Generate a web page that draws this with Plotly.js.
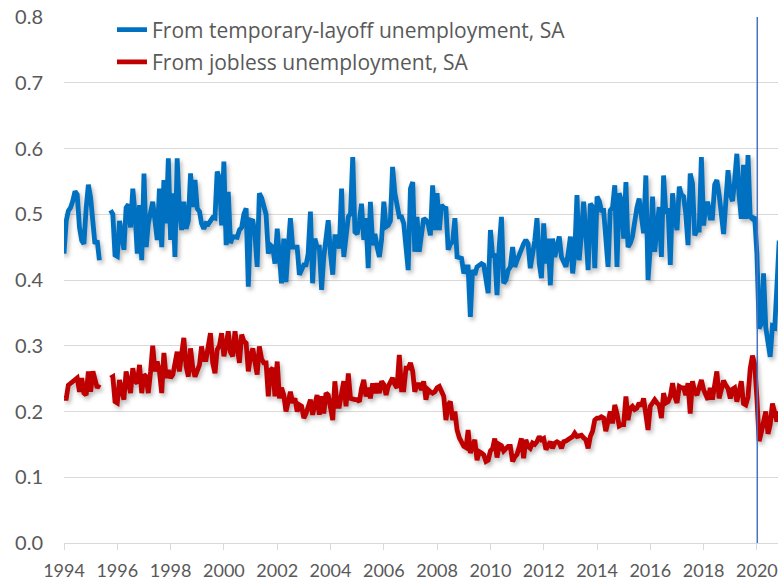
<!DOCTYPE html>
<html><head><meta charset="utf-8">
<script src="https://cdn.plot.ly/plotly-3.0.1.min.js"></script>
<style>
html,body{margin:0;padding:0;background:#fff}
#chart{width:778px;height:582px}
.scatterlayer .trace path.js-line{filter:drop-shadow(2px 3px 2px rgba(0,0,0,0.28));}
</style></head><body><div id="chart"></div>
<script>
// Monthly series, first value = Jan 1994; null = months with no data (Jun-Sep 1995)
const firstYear = 1994;
const seriesNames = ["From temporary-layoff unemployment, SA", "From jobless unemployment, SA"];
const tempLayoff = [
 0.44,0.49,0.505,0.51,0.52,0.535,0.53,0.48,0.46,0.455,0.51,0.545,
 0.525,0.49,0.455,0.46,0.43,null,null,null,null,0.506,0.50,0.438,
 0.436,0.49,0.47,0.446,0.51,0.515,0.48,0.539,0.50,0.44,0.514,0.43,
 0.562,0.45,0.486,0.505,0.519,0.49,0.461,0.539,0.45,0.552,0.486,0.585,
 0.461,0.532,0.435,0.585,0.506,0.476,0.519,0.478,0.49,0.562,0.511,0.552,
 0.509,0.504,0.486,0.478,0.486,0.485,0.49,0.495,0.494,0.565,0.555,0.483,
 0.58,0.453,0.534,0.456,0.466,0.466,0.465,0.476,0.48,0.50,0.509,0.39,
 0.491,0.49,0.47,0.42,0.532,0.525,0.511,0.50,0.44,0.453,0.45,0.425,
 0.478,0.423,0.395,0.463,0.397,0.45,0.494,0.45,0.45,0.45,0.408,0.415,
 0.423,0.423,0.44,0.504,0.395,0.463,0.45,0.45,0.385,0.435,0.465,0.491,
 0.44,0.408,0.466,0.466,0.448,0.539,0.435,0.47,0.496,0.501,0.587,0.473,
 0.47,0.49,0.516,0.461,0.494,0.418,0.519,0.453,0.47,0.45,0.435,0.461,
 0.519,0.481,0.483,0.49,0.572,0.532,0.51,0.496,0.496,0.486,0.45,0.415,
 0.539,0.549,0.443,0.496,0.443,0.47,0.494,0.491,0.485,0.468,0.544,0.476,
 0.532,0.476,0.514,0.51,0.509,0.446,0.455,0.458,0.494,0.435,0.434,0.433,
 0.41,0.42,0.42,0.344,0.415,0.408,0.42,0.423,0.425,0.423,0.40,0.38,
 0.476,0.435,0.44,0.377,0.45,0.496,0.395,0.40,0.415,0.42,0.45,0.42,
 0.43,0.44,0.448,0.455,0.461,0.455,0.418,0.435,0.46,0.494,0.425,0.403,
 0.486,0.425,0.463,0.392,0.463,0.435,0.45,0.466,0.435,0.425,0.42,0.44,
 0.466,0.41,0.44,0.529,0.43,0.47,0.519,0.47,0.415,0.516,0.511,0.418,
 0.527,0.52,0.506,0.506,0.45,0.42,0.506,0.51,0.544,0.42,0.532,0.52,
 0.463,0.549,0.45,0.456,0.466,0.49,0.51,0.524,0.501,0.471,0.559,0.40,
 0.45,0.527,0.443,0.49,0.511,0.435,0.559,0.501,0.509,0.423,0.532,0.494,
 0.476,0.542,0.53,0.527,0.501,0.453,0.562,0.547,0.468,0.476,0.476,0.587,
 0.483,0.516,0.516,0.494,0.494,0.545,0.552,0.53,0.50,0.47,0.519,0.567,
 0.53,0.52,0.55,0.592,0.53,0.493,0.575,0.493,0.59,0.496,0.493,0.496,
 0.44,0.326,0.334,0.41,0.328,0.30,0.283,0.33,0.328,0.39,0.46
];
const jobless = [
 0.22,0.22,0.24,0.243,0.246,0.25,0.251,0.23,0.251,0.228,0.225,0.261,
 0.23,0.261,0.251,0.236,0.241,null,null,null,null,0.251,0.253,0.215,
 0.213,0.248,0.236,0.218,0.261,0.246,0.228,0.266,0.246,0.243,0.271,0.228,
 0.256,0.253,0.228,0.26,0.30,0.261,0.276,0.261,0.228,0.289,0.251,0.263,
 0.251,0.256,0.27,0.291,0.261,0.29,0.312,0.269,0.253,0.296,0.266,0.253,
 0.265,0.271,0.299,0.279,0.279,0.30,0.319,0.274,0.258,0.294,0.30,0.319,
 0.284,0.30,0.322,0.29,0.284,0.322,0.299,0.274,0.317,0.307,0.304,0.261,
 0.285,0.296,0.276,0.256,0.299,0.28,0.274,0.274,0.223,0.263,0.266,0.223,
 0.276,0.22,0.236,0.225,0.2,0.215,0.23,0.213,0.22,0.2,0.21,0.208,
 0.19,0.197,0.21,0.218,0.195,0.215,0.225,0.195,0.223,0.197,0.228,0.225,
 0.205,0.187,0.246,0.208,0.208,0.23,0.246,0.208,0.258,0.22,0.218,0.218,
 0.218,0.215,0.235,0.248,0.223,0.236,0.22,0.243,0.228,0.243,0.228,0.246,
 0.241,0.225,0.238,0.245,0.251,0.241,0.236,0.286,0.233,0.233,0.266,0.266,
 0.274,0.261,0.23,0.241,0.241,0.233,0.246,0.218,0.233,0.23,0.228,0.23,
 0.236,0.238,0.23,0.223,0.187,0.21,0.215,0.187,0.2,0.172,0.16,0.152,
 0.147,0.145,0.172,0.137,0.15,0.157,0.126,0.139,0.137,0.134,0.124,0.126,
 0.14,0.144,0.159,0.13,0.15,0.148,0.14,0.145,0.147,0.147,0.124,0.131,
 0.135,0.147,0.159,0.129,0.157,0.147,0.144,0.152,0.15,0.154,0.162,0.157,
 0.159,0.142,0.15,0.154,0.144,0.152,0.154,0.152,0.144,0.154,0.155,0.157,
 0.159,0.162,0.167,0.162,0.163,0.164,0.16,0.157,0.144,0.162,0.17,0.187,
 0.19,0.19,0.192,0.19,0.17,0.19,0.2,0.182,0.21,0.197,0.178,0.18,
 0.18,0.223,0.187,0.205,0.208,0.203,0.205,0.213,0.208,0.22,0.197,0.172,
 0.208,0.213,0.218,0.213,0.21,0.19,0.228,0.213,0.215,0.223,0.243,0.223,
 0.213,0.238,0.236,0.236,0.225,0.243,0.197,0.246,0.23,0.225,0.238,0.248,
 0.233,0.225,0.218,0.236,0.218,0.24,0.261,0.22,0.232,0.247,0.24,0.235,
 0.22,0.234,0.236,0.215,0.23,0.246,0.212,0.21,0.222,0.265,0.285,0.272,
 0.22,0.155,0.168,0.19,0.2,0.166,0.18,0.212,0.2,0.185,0.2
];
const yTicks = [0,0.1,0.2,0.3,0.4,0.5,0.6,0.7,0.8];
const markerDate = "2020-01-06";

function monthDates(n){
  const out=[];
  for(let i=0;i<n;i++){
    const y=firstYear+Math.floor(i/12), m=(i%12)+1;
    out.push(y+"-"+(m<10?"0":"")+m+"-01");
  }
  return out;
}

const font = "Lato, 'Open Sans', sans-serif";
const legendFont = "'Open Sans', Lato, sans-serif";
const traces = [
  {x: monthDates(tempLayoff.length), y: tempLayoff, name: seriesNames[0], type:"scatter", mode:"lines",
   legendgroup:"a", line:{color:"#0070C0", width:4.8}, connectgaps:false},
  {x: monthDates(jobless.length), y: jobless, name: seriesNames[1], type:"scatter", mode:"lines",
   legendgroup:"b", line:{color:"#C00000", width:4.8}, connectgaps:false}
];
const layout = {
  width:778, height:582,
  margin:{l:64, r:0, t:17, b:39},
  paper_bgcolor:"#fff", plot_bgcolor:"#fff",
  font:{family:font, color:"#595959", size:20},
  showlegend:true,
  legend:{x:0.0672, y:1.0144, xanchor:"left", yanchor:"top", bgcolor:"rgba(0,0,0,0)",
          tracegroupgap:2, font:{family:legendFont, size:21, color:"#595959"}},
  xaxis:{type:"date", range:["1994-01-01","2020-10-16"], tick0:"1994-01-01", dtick:"M24",
         tickformat:"%Y", showgrid:false, zeroline:false, showline:true, linecolor:"#d9d9d9", linewidth:1,
         ticks:"outside", ticklen:6, tickcolor:"#d9d9d9", tickfont:{size:18}, ticklabelstandoff:5},
  yaxis:{range:[0,0.8], tickvals:yTicks, tickformat:".1f", showgrid:true, gridcolor:"#d9d9d9", gridwidth:1,
         zeroline:false, showline:false, ticks:"", tickfont:{size:20}, ticklabelstandoff:20},
  shapes:[{type:"line", xref:"x", yref:"y", x0:markerDate, x1:markerDate, y0:0, y1:0.8,
           line:{color:"#4472C4", width:1.5}, layer:"above"}]
};
Plotly.newPlot("chart", traces, layout, {displayModeBar:false, staticPlot:true});
</script></body></html>
